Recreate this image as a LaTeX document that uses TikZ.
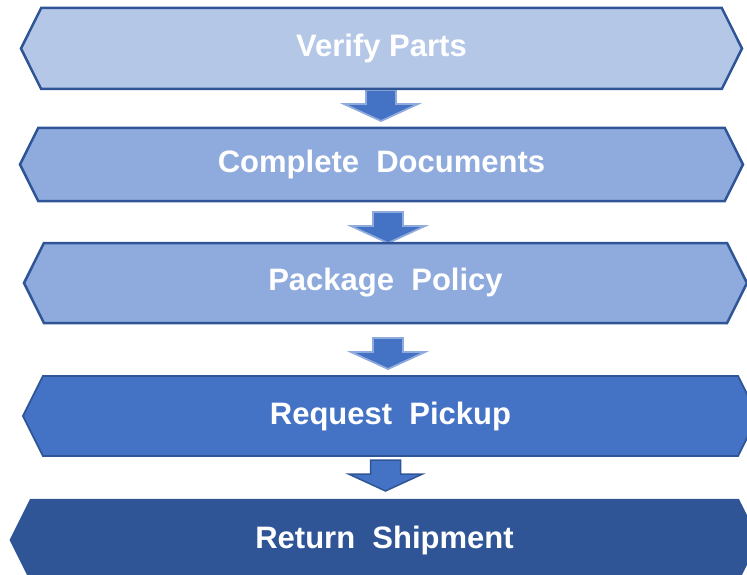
\documentclass[tikz,border=0pt]{standalone}
\usepackage{fontspec}
\setmainfont{Liberation Sans}
\usetikzlibrary{shapes.symbols}

\definecolor{paleblue}{HTML}{B4C7E7}
\definecolor{softblue}{HTML}{8FAADC}
\definecolor{midblue}{HTML}{4472C4}
\definecolor{deepblue}{HTML}{2F5597}

\tikzset{
  stage/.style={signal, signal to=west and east, signal pointer angle=127,
    draw=deepblue, line width=2.5pt, inner sep=0pt, text=white,
    font=\fontsize{31}{36}\selectfont\bfseries},
  pics/downarrow/.style={code={
    \draw[pic actions] (-15,0) -- (15,0) -- (15,14) -- (37,14) -- (0,31)
      -- (-37,14) -- (-15,14) -- cycle;
  }}
}

\begin{document}
\begin{tikzpicture}[x=1pt,y=-1pt]
  \useasboundingbox (0,0) rectangle (747,575);
  \clip (0,0) rectangle (747,575);

  % block arrows between the steps
  \foreach \x/\y in {381/90, 388/212, 388/338}{
    \pic[fill=midblue, draw=softblue, line width=1.8pt] at (\x,\y) {downarrow};
  }
  \pic[fill=midblue, draw=deepblue, line width=1.5pt] at (385.5,460) {downarrow};

  % the five steps
  \node[stage, fill=paleblue, minimum width=721, minimum height=81]
    (verify) at (381.5,48.5) {Verify Parts};
  \node[stage, fill=softblue, minimum width=723, minimum height=73]
    (docs) at (381.5,164.5) {Complete\ \ Documents};
  \node[stage, fill=softblue, minimum width=723, minimum height=80]
    (policy) at (385.5,283) {Package\ \ Policy};
  \node[stage, fill=midblue, line width=1.8pt, minimum width=735, minimum height=80]
    (pickup) at (390.5,416) {Request\ \ Pickup};
  \node[stage, fill=deepblue, minimum width=747, minimum height=80]
    (ship) at (384.5,540) {Return\ \ Shipment};
\end{tikzpicture}
\end{document}
